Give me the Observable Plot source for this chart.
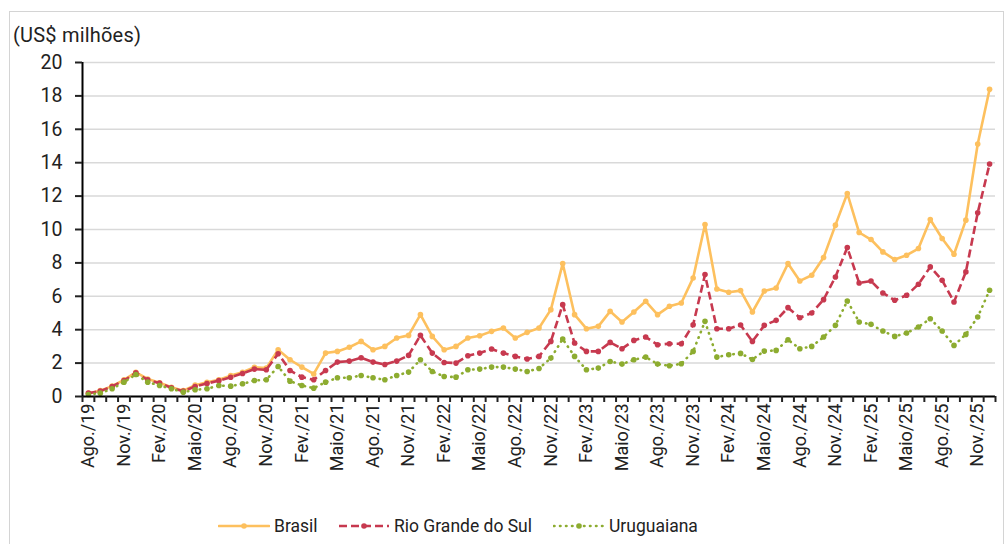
<!DOCTYPE html>
<html>
<head>
<meta charset="utf-8">
<script src="https://cdn.jsdelivr.net/npm/d3@7"></script>
<script src="https://cdn.jsdelivr.net/npm/@observablehq/plot@0.6"></script>
<style>
  body { margin: 0; background: #fff; font-family: Roboto, "Liberation Sans", sans-serif; }
  #wrap { position: relative; width: 1008px; height: 544px; overflow: hidden; background: #fff; }
  #frame { position: absolute; left: 9px; top: 11px; width: 995px; height: 545px; border: 1px solid #d4d4d4; box-sizing: border-box; }
  #ylab { position: absolute; left: 13px; top: 25px; font-size: 20px; line-height: 1; color: #222; letter-spacing: 0.2px; }
  #chart { position: absolute; left: 0; top: 0; }
  .item { position: absolute; top: 516px; display: flex; align-items: center; font-size: 17.5px; color: #222; }
  .item svg { margin-right: 4px; }
</style>
</head>
<body>
<div id="wrap">
  <div id="frame"></div>
  <div id="chart"></div>
  <div id="ylab">(US$ milhões)</div>
  <div id="legend"></div>
</div>
<script>
// Month categories (Ago./19 .. Dez./25)
const meses = [
  "Ago./19","Set./19","Out./19","Nov./19","Dez./19",
  "Jan./20","Fev./20","Mar./20","Abr./20","Maio/20","Jun./20","Jul./20","Ago./20","Set./20","Out./20","Nov./20","Dez./20",
  "Jan./21","Fev./21","Mar./21","Abr./21","Maio/21","Jun./21","Jul./21","Ago./21","Set./21","Out./21","Nov./21","Dez./21",
  "Jan./22","Fev./22","Mar./22","Abr./22","Maio/22","Jun./22","Jul./22","Ago./22","Set./22","Out./22","Nov./22","Dez./22",
  "Jan./23","Fev./23","Mar./23","Abr./23","Maio/23","Jun./23","Jul./23","Ago./23","Set./23","Out./23","Nov./23","Dez./23",
  "Jan./24","Fev./24","Mar./24","Abr./24","Maio/24","Jun./24","Jul./24","Ago./24","Set./24","Out./24","Nov./24","Dez./24",
  "Jan./25","Fev./25","Mar./25","Abr./25","Maio/25","Jun./25","Jul./25","Ago./25","Set./25","Out./25","Nov./25","Dez./25"
];

// Series values (US$ milhões)
const brasil = [
  0.2,0.35,0.62,1.0,1.45,
  1.05,0.82,0.55,0.35,0.68,0.85,1.0,1.25,1.45,1.75,1.7,2.8,
  2.2,1.76,1.35,2.6,2.7,2.95,3.3,2.8,3.0,3.5,3.66,4.9,
  3.6,2.8,3.0,3.5,3.64,3.9,4.1,3.5,3.84,4.1,5.2,7.96,
  4.9,4.06,4.2,5.1,4.46,5.06,5.7,4.9,5.4,5.6,7.1,10.3,
  6.44,6.24,6.34,5.06,6.32,6.5,7.96,6.92,7.26,8.32,10.26,12.16,
  9.82,9.4,8.66,8.2,8.46,8.86,10.6,9.46,8.52,10.56,15.12,18.4
];
const rioGrandeDoSul = [
  0.2,0.32,0.6,0.96,1.42,
  1.0,0.8,0.52,0.32,0.6,0.78,0.95,1.15,1.38,1.64,1.6,2.56,
  1.56,1.16,1.0,1.56,2.06,2.12,2.32,2.06,1.92,2.12,2.46,3.66,
  2.6,2.04,2.0,2.44,2.6,2.84,2.6,2.4,2.25,2.4,3.3,5.5,
  3.2,2.7,2.7,3.24,2.86,3.36,3.56,3.1,3.16,3.16,4.3,7.3,
  4.06,4.06,4.28,3.3,4.26,4.56,5.32,4.72,5.0,5.8,7.16,8.92,
  6.8,6.92,6.2,5.76,6.06,6.72,7.76,6.96,5.66,7.46,11.0,13.92
];
const uruguaiana = [
  0.12,0.2,0.46,0.86,1.32,
  0.86,0.66,0.46,0.26,0.4,0.46,0.66,0.62,0.76,0.96,1.0,1.8,
  0.92,0.66,0.5,0.86,1.12,1.12,1.26,1.12,1.0,1.26,1.46,2.2,
  1.5,1.2,1.16,1.6,1.64,1.76,1.76,1.64,1.5,1.68,2.3,3.44,
  2.4,1.6,1.7,2.1,1.94,2.2,2.36,1.94,1.84,1.96,2.7,4.5,
  2.36,2.5,2.58,2.22,2.72,2.76,3.4,2.86,3.0,3.56,4.26,5.72,
  4.46,4.32,3.92,3.6,3.8,4.16,4.66,3.92,3.06,3.72,4.76,6.36
];

const yTicks = [0,2,4,6,8,10,12,14,16,18,20];
const xLabelIdx = d3.range(0, meses.length, 3);

const series = [
  {nome: "Brasil", valores: brasil, cor: "#FDC05E", dash: null, cap: "round"},
  {nome: "Rio Grande do Sul", valores: rioGrandeDoSul, cor: "#C7394F", dash: "8,4", cap: "butt"},
  {nome: "Uruguaiana", valores: uruguaiana, cor: "#8DAC30", dash: "0.5,5.5", cap: "round"}
];

const xDomain = [-0.5, meses.length - 0.5];
const boundaries = d3.range(xDomain[0], xDomain[1] + 0.01, 1);

const marks = [
  Plot.gridY(yTicks, {stroke: "#d9d9d9", strokeOpacity: 1, strokeWidth: 1.5}),
];
for (const s of series) {
  const rows = s.valores.map((v, i) => ({i, v}));
  marks.push(Plot.line(rows, {x: "i", y: "v", stroke: s.cor, strokeWidth: 2.6,
    strokeDasharray: s.dash, strokeLinecap: s.cap, strokeLinejoin: "round"}));
  marks.push(Plot.dot(rows, {x: "i", y: "v", r: 2.8, fill: s.cor, stroke: "none"}));
}
marks.push(
  Plot.ruleY([yTicks[0]], {stroke: "#000", strokeWidth: 2}),
  Plot.ruleX([xDomain[0]], {stroke: "#000", strokeWidth: 2}),
  Plot.axisY({ticks: yTicks, tickSize: 7, tickPadding: 13, fontSize: 19.5, strokeWidth: 2, label: null}),
  Plot.axisX({ticks: boundaries, tickSize: 6, strokeWidth: 2, tickFormat: () => "", label: null}),
  Plot.axisX({ticks: xLabelIdx, tickSize: 0, tickPadding: 7, tickRotate: -90, fontSize: 18,
    tickFormat: i => meses[i], label: null})
);

const chart = Plot.plot({
  width: 1008,
  height: 500,
  marginLeft: 82,
  marginRight: 13,
  marginTop: 62,
  marginBottom: 104,
  style: {fontFamily: "Roboto, 'Liberation Sans', sans-serif", color: "#222", background: "transparent"},
  x: {type: "linear", domain: xDomain},
  y: {domain: [0, 20]},
  marks
});
document.getElementById("chart").appendChild(chart);

// Legend
const legendPos = [218, 338, 553];
const legend = document.getElementById("legend");
series.forEach((s, k) => {
  const item = document.createElement("div");
  item.className = "item";
  item.style.left = legendPos[k] + "px";
  const ns = "http://www.w3.org/2000/svg";
  const sv = document.createElementNS(ns, "svg");
  sv.setAttribute("width", 52); sv.setAttribute("height", 12);
  const ln = document.createElementNS(ns, "line");
  ln.setAttribute("x1", 1); ln.setAttribute("x2", 51); ln.setAttribute("y1", 6); ln.setAttribute("y2", 6);
  ln.setAttribute("stroke", s.cor); ln.setAttribute("stroke-width", 2.6);
  ln.setAttribute("stroke-linecap", s.cap);
  if (s.dash) ln.setAttribute("stroke-dasharray", s.dash);
  const c = document.createElementNS(ns, "circle");
  c.setAttribute("cx", 26); c.setAttribute("cy", 6); c.setAttribute("r", 2.8); c.setAttribute("fill", s.cor);
  sv.appendChild(ln); sv.appendChild(c);
  const t = document.createElement("span");
  t.textContent = s.nome;
  item.appendChild(sv); item.appendChild(t);
  legend.appendChild(item);
});
</script>
</body>
</html>
